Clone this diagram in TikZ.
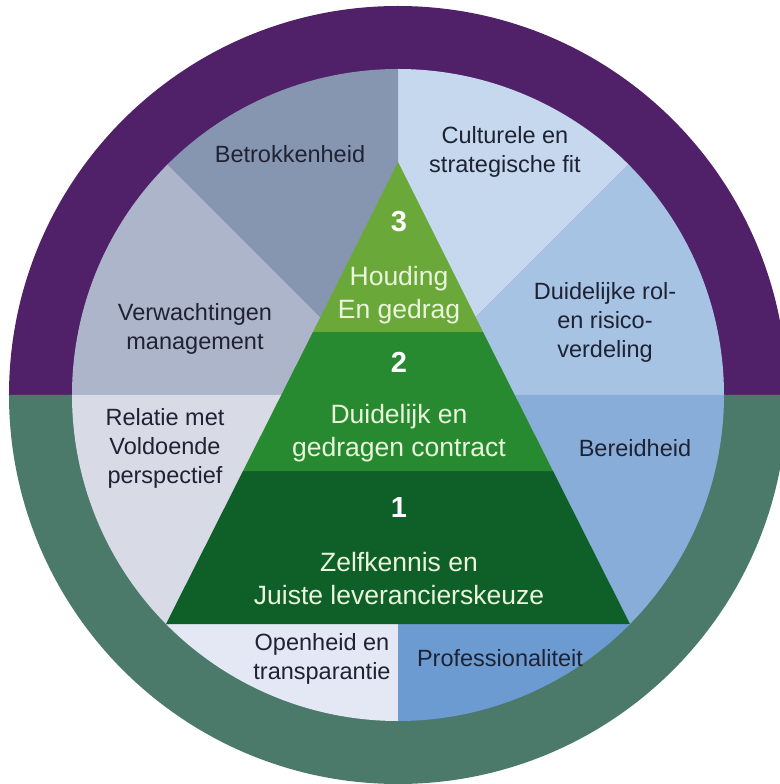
\documentclass[tikz,border=0pt]{standalone}
\usepackage{fontspec}
\setmainfont{Liberation Sans}
\definecolor{ringtop}{RGB}{80,32,104}
\definecolor{ringbot}{RGB}{75,122,106}
\definecolor{betrok}{RGB}{135,150,176}
\definecolor{verwacht}{RGB}{173,181,202}
\definecolor{cultuur}{RGB}{197,216,238}
\definecolor{rolverd}{RGB}{166,195,227}
\definecolor{relatie}{RGB}{216,218,230}
\definecolor{openheid}{RGB}{227,232,244}
\definecolor{profes}{RGB}{108,155,210}
\definecolor{bereid}{RGB}{136,173,217}
\definecolor{pyrtop}{RGB}{106,168,58}
\definecolor{pyrmid}{RGB}{40,138,48}
\definecolor{pyrlow}{RGB}{15,95,40}
\definecolor{pyrfont}{RGB}{234,245,220}
\definecolor{textdark}{RGB}{30,34,51}

\begin{document}
\begin{tikzpicture}[x=1pt,y=1pt,
  sectortext/.style={align=center,inner sep=0pt,text=textdark,font=\fontsize{23.5}{29}\selectfont},
  pyrtext/.style={align=center,inner sep=0pt,text=pyrfont,font=\fontsize{26.5}{33}\selectfont},
  pyrnum/.style={inner sep=0pt,text=white,font=\fontsize{29}{33}\selectfont\bfseries}]
\useasboundingbox (-398,-389) rectangle (381,395);
% outer ring
\fill[ringtop] (389,0) arc (0:180:389) -- cycle;
\fill[ringbot] (-389,0) arc (180:360:389) -- cycle;
% sectors
\foreach \a/\c in {0/rolverd,45/cultuur,90/betrok,135/verwacht,180/relatie,225/openheid,270/profes,315/bereid}
  \fill[\c] (0,0) -- (\a:326) arc (\a:\a+45:326) -- cycle;
% pyramid
\fill[pyrlow] (-232,-229) -- (232,-229) -- (155,-76) -- (-155,-76) -- cycle;
\fill[pyrmid] (-155,-76) -- (155,-76) -- (85,63) -- (-85,63) -- cycle;
\fill[pyrtop] (-85,63) -- (85,63) -- (0,233) -- cycle;
% sector labels
\node[sectortext] (betrokkenheid) at (-108,241) {Betrokkenheid};
\node[sectortext] (cultureel) at (107,243) {Culturele en\\strategische fit};
\node[sectortext] (verwachtingen) at (-203,66) {Verwachtingen\\management};
\node[sectortext] (rolverdeling) at (207,73) {Duidelijke rol-\\en risico-\\verdeling};
\node[sectortext] (relatie) at (-233,-53) {Relatie met\\Voldoende\\perspectief};
\node[sectortext] (bereidheid) at (237,-53) {Bereidheid};
\node[sectortext] (openheid) at (-76,-264) {Openheid en\\transparantie};
\node[sectortext] (professionaliteit) at (102,-263) {Professionaliteit};
% pyramid labels
\node[pyrnum] (nr3) at (1,173) {3};
\node[pyrtext] (houding) at (1,100) {Houding\\En gedrag};
\node[pyrnum] (nr2) at (1,33) {2};
\node[pyrtext] (contract) at (1,-38) {Duidelijk en\\gedragen contract};
\node[pyrnum] (nr1) at (1,-113) {1};
\node[pyrtext] (zelfkennis) at (1,-184) {Zelfkennis en\\Juiste leverancierskeuze};
\end{tikzpicture}
\end{document}
